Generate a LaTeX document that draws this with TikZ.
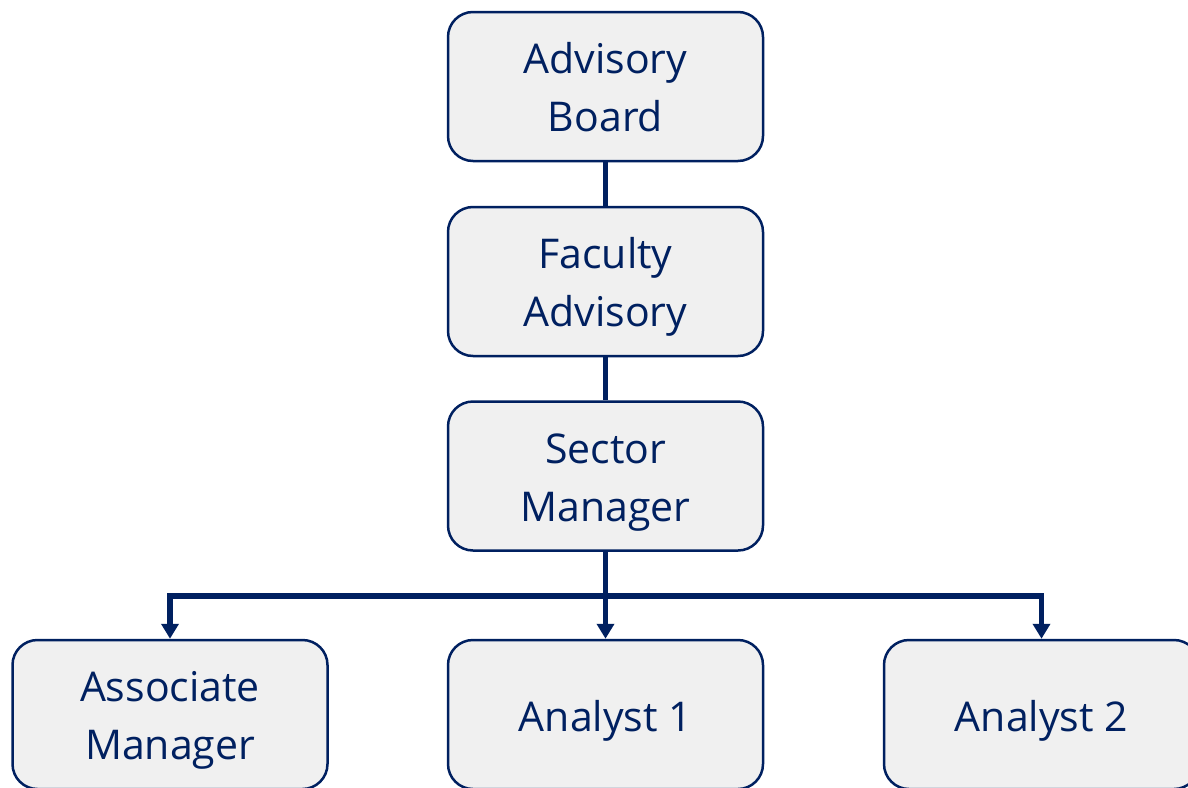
\documentclass[tikz,border=0pt]{standalone}
\usepackage{fontspec}
\setmainfont{Open Sans}
\usetikzlibrary{arrows.meta}
\definecolor{navy}{HTML}{002060}
\definecolor{boxfill}{HTML}{F0F0F0}
\tikzset{
  orgbox/.style={draw=navy, fill=boxfill, line width=2.5pt, rounded corners=25pt,
    minimum width=315pt, minimum height=149pt, inner sep=0pt},
  lbl/.style={anchor=base, inner sep=0pt, text=navy, font=\fontsize{41}{57}\selectfont},
  conn/.style={draw=navy, line width=5.5pt},
  arr/.style={conn, -{Triangle[width=17pt,length=15pt]}}
}
\begin{document}
\begin{tikzpicture}[x=1pt,y=-1pt]
\useasboundingbox (0,0) rectangle (1188,787);
\clip (0,0) rectangle (1188,787);
\node[orgbox] (ab) at (605.5,86.5) {};
\node[orgbox] (fa) at (605.5,281.5) {};
\node[orgbox] (sm) at (605.5,476) {};
\node[orgbox] (am) at (170,714.5) {};
\node[orgbox] (a1) at (605.5,714.5) {};
\node[orgbox] (a2) at (1041.5,714.5) {};
\node[lbl] (ab1) at ([yshift=13pt]ab.center) {Advisory};
\node[lbl] (ab2) at ([yshift=-45pt]ab.center) {Board};
\node[lbl] (fa1) at ([yshift=13pt]fa.center) {Faculty};
\node[lbl] (fa2) at ([yshift=-45pt]fa.center) {Advisory};
\node[lbl] (sm1) at ([yshift=13pt]sm.center) {Sector};
\node[lbl] (sm2) at ([yshift=-45pt]sm.center) {Manager};
\node[lbl] (am1) at ([yshift=13pt]am.center) {Associate};
\node[lbl] (am2) at ([yshift=-45pt]am.center) {Manager};
\node[lbl] (a1t) at ([yshift=-16.5pt]a1.center) {Analyst 1};
\node[lbl] (a2t) at ([yshift=-16.5pt]a2.center) {Analyst 2};
\coordinate (j) at (605.5,596);
\draw[conn] (ab.south) -- (fa.north);
\draw[conn] (fa.south) -- (sm.north);
\draw[conn] (sm.south) -- (j);
\draw[arr] (j) -| (am.north);
\draw[arr] (j) -| (a2.north);
\draw[arr] (j) -- (a1.north);
\end{tikzpicture}
\end{document}
